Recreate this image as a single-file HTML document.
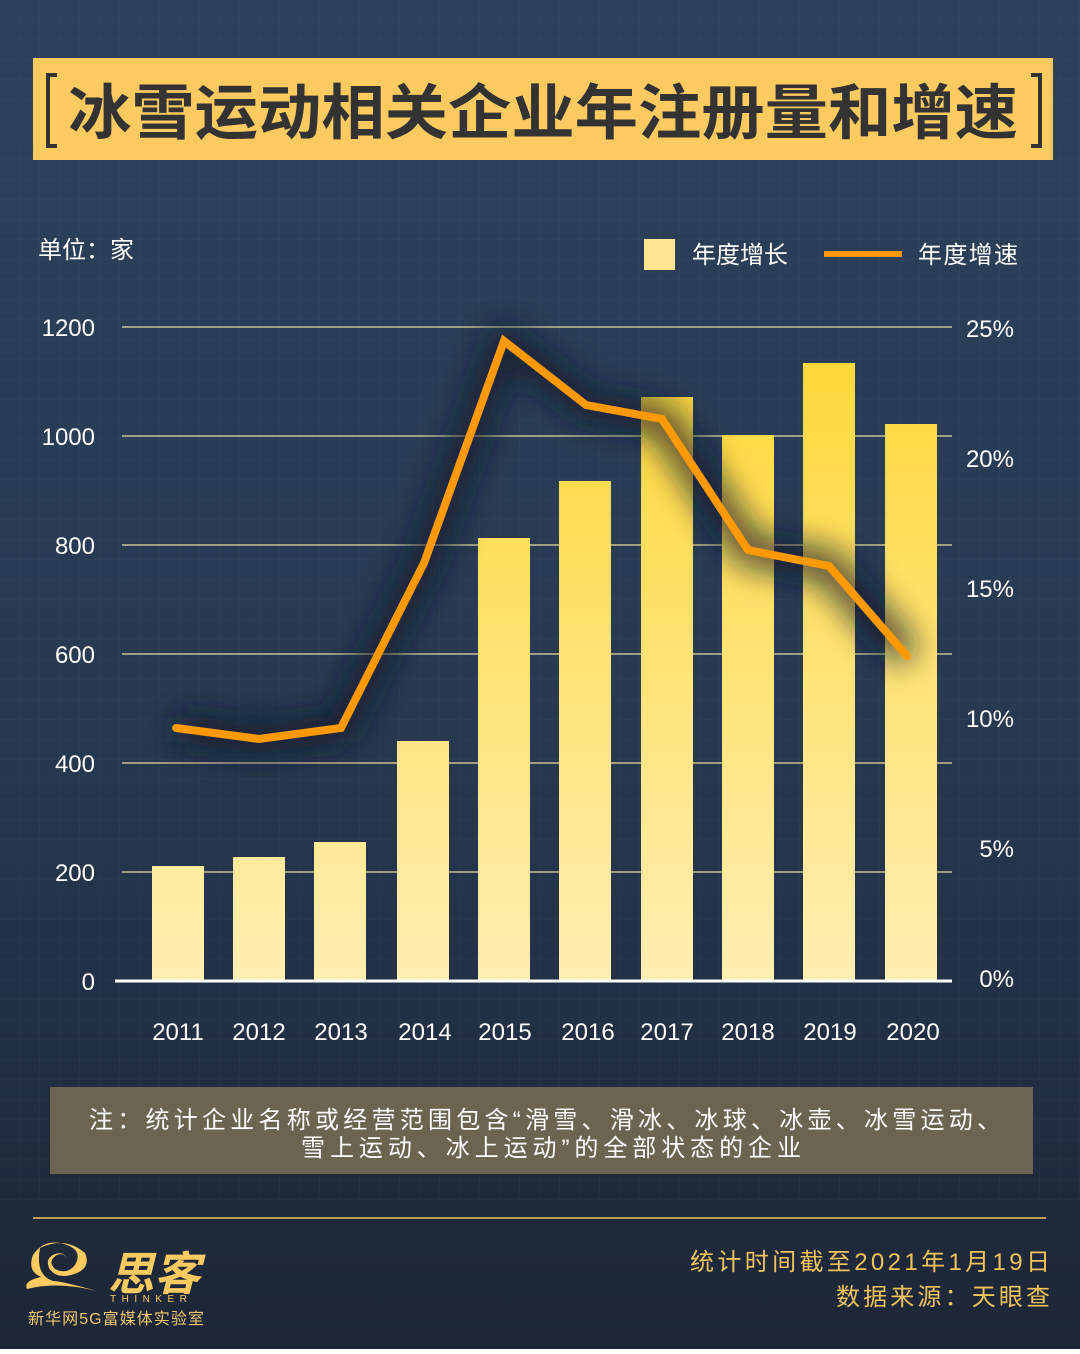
<!DOCTYPE html>
<html><head><meta charset="utf-8"><style>
html,body{margin:0;padding:0;}
body{width:1080px;height:1349px;overflow:hidden;}
svg text{font-family:"Liberation Sans","Noto Sans CJK SC",sans-serif;}
</style></head><body>
<svg width="1080" height="1349" viewBox="0 0 1080 1349" xmlns="http://www.w3.org/2000/svg">
<defs>
<linearGradient id="bg" x1="0" y1="0" x2="0" y2="1">
<stop offset="0" stop-color="#2c415c"/><stop offset="0.5" stop-color="#283a52"/><stop offset="1" stop-color="#1c2636"/>
</linearGradient>
<linearGradient id="bar" gradientUnits="userSpaceOnUse" x1="0" y1="360" x2="0" y2="981">
<stop offset="0" stop-color="#ffd838"/><stop offset="1" stop-color="#ffefb3"/>
</linearGradient>
<pattern id="grid" width="20" height="20" patternUnits="userSpaceOnUse">
<path d="M20 0V20M0 20H20" stroke="#ffffff" stroke-opacity="0.04" stroke-width="1" fill="none"/>
</pattern>
<filter id="sh" x="-20%" y="-20%" width="140%" height="140%"><feGaussianBlur stdDeviation="16"/></filter>
</defs>
<rect width="1080" height="1349" fill="url(#bg)"/>
<rect width="1080" height="1200" fill="url(#grid)"/>
<rect x="33" y="58" width="1020" height="102" fill="#ffca60"/>
<path d="M57 75H48V146H57" fill="none" stroke="#333" stroke-width="4"/>
<path d="M1031 75H1040V146H1031" fill="none" stroke="#333" stroke-width="4"/>
<text x="543" y="134" font-size="60" font-weight="bold" fill="#333" text-anchor="middle" textLength="950" lengthAdjust="spacingAndGlyphs">冰雪运动相关企业年注册量和增速</text>
<text x="38" y="258" font-size="24" fill="#fff">单位：家</text>
<rect x="644" y="239" width="31" height="31" fill="#ffe690"/>
<text x="692" y="263" font-size="24" fill="#fff">年度增长</text>
<rect x="824" y="251" width="78" height="6" fill="#ff9900"/>
<text x="918" y="263" font-size="24" fill="#fff" textLength="100">年度增速</text>
<g stroke="#e8dca0" stroke-width="1.2">
<line x1="122" y1="327" x2="952" y2="327"/><line x1="122" y1="436" x2="952" y2="436"/>
<line x1="122" y1="545" x2="952" y2="545"/><line x1="122" y1="654" x2="952" y2="654"/>
<line x1="122" y1="763" x2="952" y2="763"/><line x1="122" y1="872" x2="952" y2="872"/>
</g>
<g font-size="24" fill="#fff" text-anchor="end">
<text x="95" y="336">1200</text><text x="95" y="445">1000</text><text x="95" y="554">800</text>
<text x="95" y="663">600</text><text x="95" y="772">400</text><text x="95" y="881">200</text><text x="95" y="990">0</text>
</g>
<g font-size="24" fill="#fff" text-anchor="end">
<text x="1014" y="337">25%</text><text x="1014" y="467">20%</text><text x="1014" y="597">15%</text>
<text x="1014" y="727">10%</text><text x="1014" y="857">5%</text><text x="1014" y="987">0%</text>
</g>
<g fill="url(#bar)">
<rect x="152" y="866" width="52" height="115"/><rect x="233" y="857" width="52" height="124"/>
<rect x="314" y="842" width="52" height="139"/><rect x="397" y="741" width="52" height="240"/>
<rect x="478" y="538" width="52" height="443"/><rect x="559" y="481" width="52" height="500"/>
<rect x="641" y="397" width="52" height="584"/><rect x="722" y="435" width="52" height="546"/>
<rect x="803" y="363" width="52" height="618"/><rect x="885" y="424" width="52" height="557"/>
</g>
<line x1="115" y1="981" x2="952" y2="981" stroke="#fff" stroke-width="3"/>
<g font-size="24" fill="#fff" text-anchor="middle">
<text x="178" y="1040">2011</text><text x="259" y="1040">2012</text><text x="341" y="1040">2013</text>
<text x="425" y="1040">2014</text><text x="505" y="1040">2015</text><text x="588" y="1040">2016</text>
<text x="667" y="1040">2017</text><text x="748" y="1040">2018</text><text x="830" y="1040">2019</text><text x="913" y="1040">2020</text>
</g>
<polyline points="176,728 259,739 341,728 424,563 504,341 586,405 662,419 748,550 829,566 907,656" fill="none" stroke="#0e1626" stroke-opacity="0.8" stroke-width="30" filter="url(#sh)" stroke-linejoin="round"/>
<polyline points="176,728 259,739 341,728 424,563 504,341 586,405 662,419 748,550 829,566 907,656" fill="none" stroke="#ff9900" stroke-width="8" stroke-linejoin="miter" stroke-linecap="round"/>
<rect x="50" y="1087" width="983" height="87" fill="#6b6450"/>
<text x="545" y="1128" font-size="24" fill="#fff" text-anchor="middle" textLength="912" lengthAdjust="spacing">注：统计企业名称或经营范围包含“滑雪、滑冰、冰球、冰壶、冰雪运动、</text>
<text x="551" y="1156" font-size="24" fill="#fff" text-anchor="middle" textLength="500" lengthAdjust="spacing">雪上运动、冰上运动”的全部状态的企业</text>
<line x1="33" y1="1218" x2="1046" y2="1218" stroke="#f2c35a" stroke-width="1.5"/>
<g fill="#ffca60">
<path d="M40 1248 q25 -12 45 5 q6 14 -8 20 q-20 8 -28 -5 q-4 -10 6 -14 q10 -3 12 6 q-2 -8 -10 -5 q-10 6 -2 14 q12 6 20 -4 q8 -14 -8 -20 q-22 -8 -34 10 q-6 16 8 22 q-18 4 -14 12 q30 -8 70 2 q-36 -10 -44 -10 q-18 -6 -13 -33z"/>
</g>
<text x="108" y="1290" font-size="46" fill="#ffca60" font-family="Liberation Serif,Noto Serif CJK SC,serif" font-style="italic" font-weight="bold">思客</text>
<text x="110" y="1302" font-size="10" fill="#ffca60" letter-spacing="5.5">THINKER</text>
<text x="28" y="1324" font-size="16" fill="#f2c76a" textLength="176">新华网5G富媒体实验室</text>
<text x="690" y="1270" font-size="24" fill="#f2c35a" textLength="360" lengthAdjust="spacing">统计时间截至2021年1月19日</text>
<text x="836" y="1305" font-size="24" fill="#f2c35a" textLength="214" lengthAdjust="spacing">数据来源：天眼查</text>
</svg>
</body></html>
